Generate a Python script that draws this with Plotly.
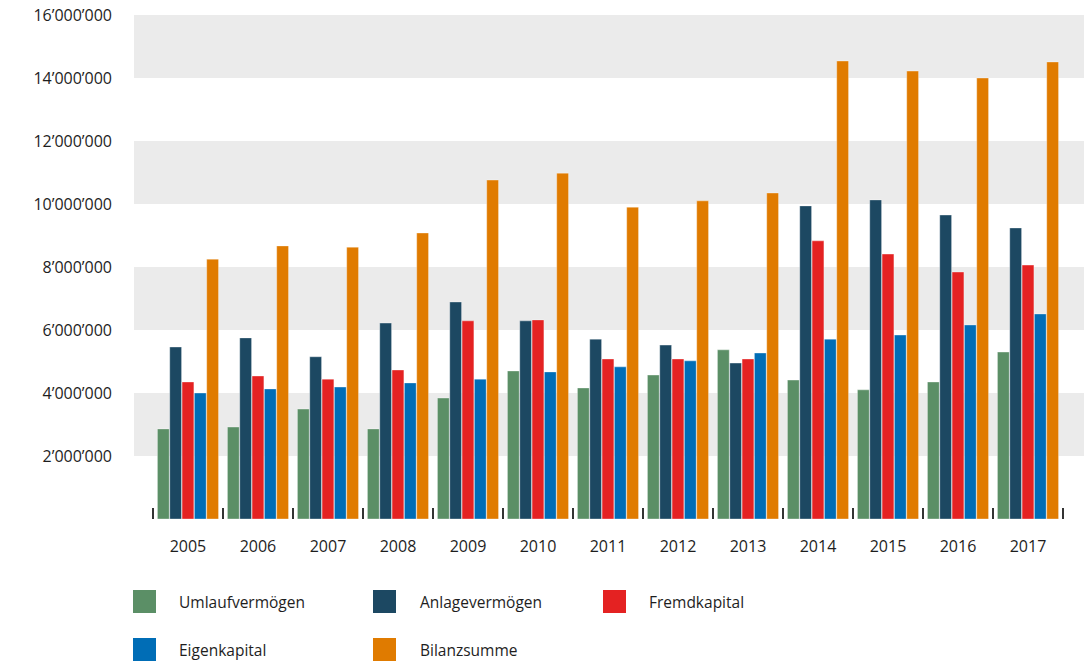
import plotly.graph_objects as go

years = ["2005", "2006", "2007", "2008", "2009", "2010", "2011", "2012", "2013", "2014", "2015", "2016", "2017"]

umlaufvermoegen = [2860000, 2920000, 3490000, 2860000, 3840000, 4700000, 4160000, 4570000, 5370000, 4410000, 4100000, 4350000, 5300000]
anlagevermoegen = [5460000, 5750000, 5150000, 6220000, 6890000, 6290000, 5710000, 5520000, 4950000, 9940000, 10130000, 9650000, 9240000]
fremdkapital = [4350000, 4540000, 4440000, 4730000, 6290000, 6320000, 5080000, 5080000, 5080000, 8830000, 8410000, 7840000, 8060000]
eigenkapital = [4000000, 4130000, 4190000, 4320000, 4440000, 4670000, 4830000, 5020000, 5270000, 5710000, 5840000, 6160000, 6510000]
bilanzsumme = [8250000, 8670000, 8630000, 9080000, 10760000, 10980000, 9900000, 10100000, 10350000, 14540000, 14220000, 14000000, 14510000]

series_names = ["Umlaufvermögen", "Anlagevermögen", "Fremdkapital", "Eigenkapital", "Bilanzsumme"]
series_values = [umlaufvermoegen, anlagevermoegen, fremdkapital, eigenkapital, bilanzsumme]
colors = ["#5b8f66", "#1c4862", "#e42222", "#006db6", "#e07b00"]

y_tick_vals = [2000000, 4000000, 6000000, 8000000, 10000000, 12000000, 14000000, 16000000]
y_tick_text = ["2’000’000", "4’000’000", "6’000’000", "8’000’000", "10’000’000", "12’000’000", "14’000’000", "16’000’000"]
band_ranges = [(2000000, 4000000), (6000000, 8000000), (10000000, 12000000), (14000000, 16000000)]

W, H = 1084, 664
ML, MR, MT, MB = 134, 0, 15, 664 - 519
PW, PH = W - ML - MR, H - MT - MB
FONT = "Open Sans"
TXT = "#1e1e1e"

fig = go.Figure()
for name, vals, col in zip(series_names, series_values, colors):
    fig.add_trace(go.Bar(
        x=years, y=vals, name=name, marker_color=col,
        marker_line=dict(color="rgba(255,255,255,0.35)", width=1),
        showlegend=False,
    ))

shapes = []
for lo, hi in band_ranges:
    shapes.append(dict(type="rect", xref="paper", yref="y", x0=0, x1=1, y0=lo, y1=hi,
                       fillcolor="#ebebeb", line_width=0, layer="below"))

def px_x(px):
    return (px - ML) / PW

def px_y(py):
    return (H - MB - py) / PH

legend_pos = [(133, 590, 177), (373, 590, 418), (603, 590, 647), (133, 638, 177), (373, 638, 418)]
annotations = []
for (sx, sy, tx), name, col in zip(legend_pos, series_names, colors):
    shapes.append(dict(type="rect", xref="paper", yref="paper",
                       x0=px_x(sx), x1=px_x(sx + 23), y0=px_y(sy), y1=px_y(sy + 23),
                       fillcolor=col, line_width=0))
    annotations.append(dict(xref="paper", yref="paper", x=px_x(tx), y=px_y(sy + 11.5),
                            text=name, showarrow=False, xanchor="left", yanchor="middle",
                            font=dict(family=FONT, size=15.5, color=TXT)))

fig.update_layout(
    width=W, height=H,
    margin=dict(l=ML, r=MR, t=MT, b=MB, autoexpand=False),
    paper_bgcolor="white", plot_bgcolor="white",
    barmode="group", bargap=0.12, bargroupgap=0.04,
    font=dict(family=FONT, size=16, color=TXT),
    shapes=shapes, annotations=annotations,
    showlegend=False,
    xaxis=dict(
        type="category", range=[-0.771, 12.8], automargin=False,
        showgrid=False, zeroline=False, showline=False,
        ticks="inside", tickson="boundaries", ticklen=11, tickwidth=2, tickcolor="#333333",
        ticklabelstandoff=16, tickfont=dict(family=FONT, size=16, color=TXT),
    ),
    yaxis=dict(
        range=[0, 16000000], tickvals=y_tick_vals, ticktext=y_tick_text, automargin=False,
        showgrid=False, zeroline=False, showline=False, ticks="",
        ticklabelstandoff=21, ticklabeloverflow="allow",
        tickfont=dict(family=FONT, size=16, color=TXT),
    ),
)

fig.write_html("out.html", config={"displayModeBar": False},
               post_script="document.body.style.margin='0';")
